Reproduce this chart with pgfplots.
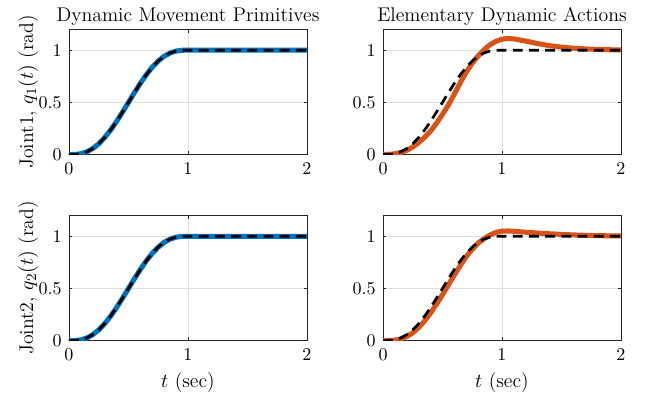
\documentclass[border=0pt]{standalone}
\usepackage{pgfplots}
\pgfplotsset{compat=1.18}
\definecolor{mblue}{rgb}{0,0.447,0.741}
\definecolor{morange}{rgb}{0.85,0.325,0.098}
\definecolor{axgray}{rgb}{0.15,0.15,0.15}
\pgfplotsset{
  sub/.style={
    scale only axis, width=132.2pt, height=69.6pt, anchor=south west,
    xmin=0, xmax=2, ymin=0, ymax=1.2,
    xtick={0,1,2}, ytick={0,0.5,1},
    xticklabels={0,1,2}, yticklabels={0,0.5,1},
    tick align=inside, major tick length=1.8pt,
    axis line style={axgray, line width=0.5pt},
    every tick/.style={axgray, line width=0.5pt},
    grid=major, major grid style={black!13, line width=0.5pt},
    ticklabel style={font=\fontsize{10}{12}\selectfont},
    label style={font=\fontsize{11}{13}\selectfont},
    title style={font=\fontsize{11}{13}\selectfont, yshift=-7.5pt},
    xticklabel style={yshift=-1pt},
    yticklabel style={xshift=-0.5pt},
    ylabel style={yshift=-6.5pt},
    xlabel style={yshift=0.5pt},
  },
  dash/.style={black, line width=1.5pt, dash pattern=on 5.5pt off 3.5pt},
  thickb/.style={mblue, line width=2.8pt},
  thicko/.style={morange, line width=2.8pt},
}
\pgfplotstableread{
t q
0 0
0.05 0.00116
0.1 0.00856
0.15 0.02661
0.2 0.05792
0.25 0.10352
0.3 0.16308
0.35 0.23517
0.4 0.31744
0.45 0.40687
0.5 0.5
0.55 0.59313
0.6 0.68256
0.65 0.76483
0.7 0.83692
0.75 0.89648
0.8 0.94208
0.85 0.97339
0.9 0.99144
0.95 0.99884
1.0 1.0
2.0 1.0
}\refdata
\pgfplotstableread{
t q
0 0
0.05 0.001
0.1 0.008
0.15 0.026
0.2 0.058
0.25 0.103
0.3 0.163
0.35 0.235
0.4 0.317
0.45 0.407
0.5 0.5
0.55 0.593
0.6 0.683
0.65 0.765
0.7 0.837
0.75 0.896
0.8 0.942
0.85 0.973
0.9 0.991
0.95 0.999
1.0 1.0
2.0 1.0
}\dmpone
\pgfplotstableread{
t q
0 0
0.05 0.001
0.1 0.008
0.15 0.026
0.2 0.058
0.25 0.103
0.3 0.163
0.35 0.235
0.4 0.317
0.45 0.407
0.5 0.5
0.55 0.593
0.6 0.683
0.65 0.765
0.7 0.837
0.75 0.896
0.8 0.942
0.85 0.973
0.9 0.991
0.95 0.999
1.0 1.0
2.0 1.0
}\dmptwo
\pgfplotstableread{
t q
0 0
0.05 0.001
0.1 0.008
0.15 0.02
0.2 0.04
0.25 0.072
0.3 0.115
0.35 0.165
0.4 0.225
0.45 0.30
0.5 0.385
0.55 0.475
0.6 0.58
0.65 0.69
0.7 0.79
0.75 0.875
0.8 0.945
0.85 1.005
0.9 1.052
0.95 1.085
1.0 1.105
1.05 1.112
1.1 1.108
1.2 1.087
1.3 1.063
1.4 1.043
1.5 1.029
1.6 1.019
1.7 1.012
1.8 1.007
1.9 1.004
2.0 1.002
}\edaone
\pgfplotstableread{
t q
0 0
0.05 0.001
0.1 0.005
0.15 0.017
0.2 0.04
0.25 0.075
0.3 0.125
0.35 0.19
0.4 0.265
0.45 0.35
0.5 0.44
0.55 0.535
0.6 0.63
0.65 0.72
0.7 0.805
0.75 0.875
0.8 0.935
0.85 0.978
0.9 1.012
0.95 1.037
1.0 1.049
1.05 1.051
1.1 1.048
1.2 1.039
1.3 1.031
1.4 1.024
1.5 1.018
1.6 1.013
1.7 1.009
1.8 1.006
2.0 1.003
}\edatwo
\begin{document}
\begin{tikzpicture}
\useasboundingbox (0,0) rectangle (360.56pt,221.67pt);
\begin{axis}[sub, at={(38.33pt,135.8pt)}, title={Dynamic Movement Primitives},
  ylabel={Joint1, $q_1(t)$ (rad)}]
\addplot[thickb] table[x=t,y=q] {\dmpone};
\addplot[dash] table[x=t,y=q] {\refdata};
\end{axis}
\begin{axis}[sub, at={(212.78pt,135.8pt)}, title={Elementary Dynamic Actions}]
\addplot[thicko] table[x=t,y=q] {\edaone};
\addplot[dash] table[x=t,y=q] {\refdata};
\end{axis}
\begin{axis}[sub, at={(38.33pt,32.4pt)}, xlabel={$t$ (sec)},
  ylabel={Joint2, $q_2(t)$ (rad)}]
\addplot[thickb] table[x=t,y=q] {\dmptwo};
\addplot[dash] table[x=t,y=q] {\refdata};
\end{axis}
\begin{axis}[sub, at={(212.78pt,32.4pt)}, xlabel={$t$ (sec)}]
\addplot[thicko] table[x=t,y=q] {\edatwo};
\addplot[dash] table[x=t,y=q] {\refdata};
\end{axis}
\end{tikzpicture}
\end{document}
